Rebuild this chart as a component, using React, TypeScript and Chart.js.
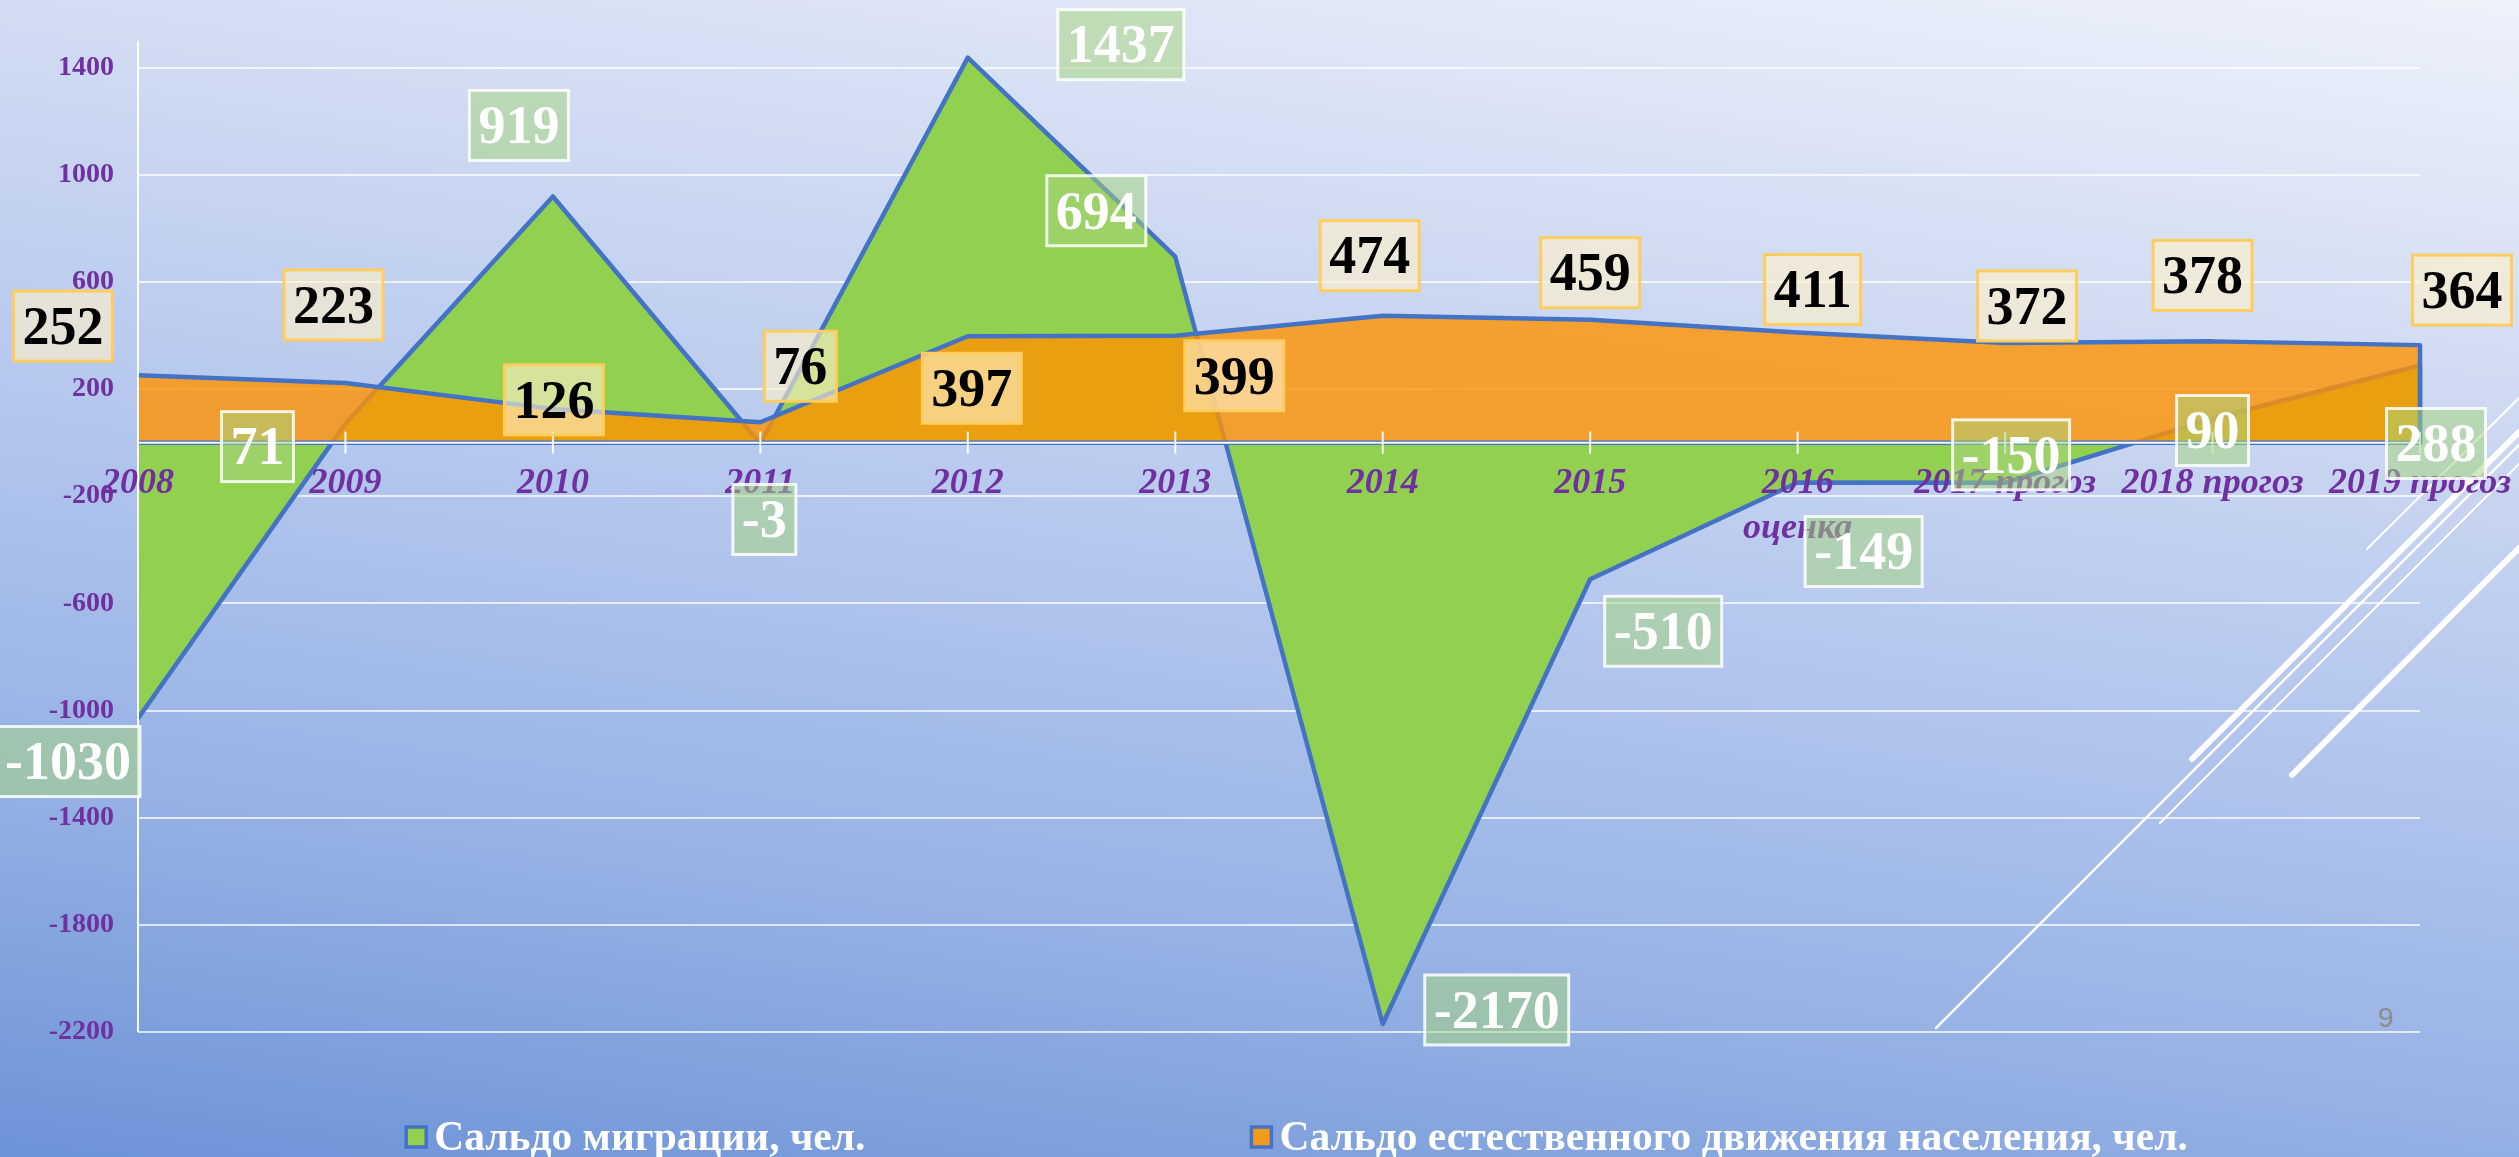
import React, { useEffect, useRef } from "react";
import { Chart, registerables } from "chart.js";

Chart.register(...registerables);

// ---------- data ----------
const categories: (string | string[])[] = [
  "2008", "2009", "2010", "2011", "2012", "2013", "2014", "2015",
  ["2016", "оценка"], "2017 прогоз", "2018 прогоз", "2019 прогоз",
];
const migration = [-1030, 71, 919, -3, 1437, 694, -2170, -510, -149, -150, 90, 288];
const natural = [252, 223, 126, 76, 397, 399, 474, 459, 411, 372, 378, 364];
const yTicks = [-2200, -1800, -1400, -1000, -600, -200, 200, 600, 1000, 1400];
const seriesNames = [
  "Сальдо миграции, чел.",
  "Сальдо естественного движения населения, чел.",
];

// ---------- label placement (px offsets from each point) ----------
const migrationLabelOffsets = [
  [-70, 43], [-88, 23], [-34, -71], [4, 76], [153, -13], [-79, -46],
  [114, -14], [73, 52], [66, 69], [6, -28], [0, 12], [16, 78],
];
const naturalLabelOffsets = [
  [-75, -49], [-12, -78], [1, -9], [40, -56], [4, 52], [59, 40],
  [-13, -60], [0, -47], [15, -43], [22, -37], [-10, -66], [42, -55],
];

// ---------- styles ----------
const SERIF = '"Liberation Serif", "Times New Roman", Times, serif';
const GREEN = "#92D050";
const ORANGE = "rgba(255,146,0,0.8)";
const BLUE = "#4472C4";
const PURPLE = "#7030A0";

const decoLines = [
  { x1: 1936, y1: 1028, x2: 2519, y2: 445, w: 2.5 },
  { x1: 2192, y1: 759, x2: 2519, y2: 432, w: 6 },
  { x1: 2160, y1: 823, x2: 2519, y2: 464, w: 2 },
  { x1: 2292, y1: 775, x2: 2519, y2: 548, w: 6 },
  { x1: 2367, y1: 549, x2: 2519, y2: 398, w: 2 },
];

export default function App() {
  const ref = useRef<HTMLCanvasElement>(null);

  useEffect(() => {
    const canvas = ref.current;
    if (!canvas) return;

    const areaBorder = {
      id: "areaBorder",
      afterDatasetDraw(chart: any, args: any) {
        const pts = args.meta.data;
        if (!pts || !pts.length) return;
        const ctx = chart.ctx;
        const y0 = chart.scales.y.getPixelForValue(0);
        ctx.save();
        ctx.beginPath();
        ctx.moveTo(pts[0].x, pts[0].y);
        for (let i = 1; i < pts.length; i++) ctx.lineTo(pts[i].x, pts[i].y);
        ctx.lineTo(pts[pts.length - 1].x, y0);
        ctx.lineTo(pts[0].x, y0);
        ctx.lineWidth = 4.5;
        ctx.lineJoin = "round";
        ctx.strokeStyle = BLUE;
        ctx.stroke();
        ctx.restore();
      },
    };

    const axesOverlay = {
      id: "axesOverlay",
      afterDatasetsDraw(chart: any) {
        const { ctx, chartArea, scales } = chart;
        const y0 = scales.y.getPixelForValue(0);
        ctx.save();
        ctx.strokeStyle = "rgba(255,255,255,0.95)";
        ctx.lineWidth = 2;
        ctx.beginPath();
        ctx.moveTo(chartArea.left, chartArea.top);
        ctx.lineTo(chartArea.left, chartArea.bottom);
        ctx.stroke();
        ctx.beginPath();
        ctx.moveTo(chartArea.left, y0);
        ctx.lineTo(chartArea.right, y0);
        ctx.stroke();
        categories.forEach((_, i) => {
          const x = scales.x.getPixelForTick(i);
          ctx.beginPath();
          ctx.moveTo(x, y0 - 11);
          ctx.lineTo(x, y0 + 11);
          ctx.stroke();
        });
        ctx.restore();
      },
    };

    const overlay = {
      id: "valueLabelsAndLegend",
      afterDraw(chart: any) {
        const ctx = chart.ctx;
        const fs = 54;
        const drawSet = (
          dsIndex: number,
          values: number[],
          offsets: number[][],
          fill: string,
          border: string,
          textColor: string
        ) => {
          const meta = chart.getDatasetMeta(dsIndex);
          values.forEach((v, i) => {
            const p = meta.data[i];
            const cx = p.x + offsets[i][0];
            const cy = p.y + offsets[i][1];
            const text = String(v);
            ctx.save();
            ctx.font = `bold ${fs}px ${SERIF}`;
            const w = ctx.measureText(text).width + 18;
            const h = 70;
            ctx.fillStyle = fill;
            ctx.fillRect(cx - w / 2, cy - h / 2, w, h);
            ctx.lineWidth = 3;
            ctx.strokeStyle = border;
            ctx.strokeRect(cx - w / 2, cy - h / 2, w, h);
            ctx.fillStyle = textColor;
            ctx.textAlign = "center";
            ctx.textBaseline = "alphabetic";
            ctx.fillText(text, cx, cy + fs * 0.33);
            ctx.restore();
          });
        };
        drawSet(0, migration, migrationLabelOffsets, "rgba(165,213,125,0.52)", "rgba(255,255,255,0.85)", "#FFFFFF");
        drawSet(1, natural, naturalLabelOffsets, "rgba(255,240,200,0.62)", "#FFCD5E", "#000000");

        // legend
        const ca = chart.chartArea;
        const lfs = 41.5;
        const box = 20;
        const gap = 386;
        const ly = 1137;
        ctx.save();
        ctx.font = `bold ${lfs}px ${SERIF}`;
        const widths = seriesNames.map((t) => box + 8 + ctx.measureText(t).width);
        const total = widths[0] + gap + widths[1];
        let x = (ca.left + ca.right) / 2 + 18 - total / 2;
        const fills = [GREEN, "rgb(240,155,30)"];
        seriesNames.forEach((t, i) => {
          ctx.fillStyle = fills[i];
          ctx.fillRect(x, ly - box / 2, box, box);
          ctx.lineWidth = 3.5;
          ctx.strokeStyle = BLUE;
          ctx.strokeRect(x, ly - box / 2, box, box);
          ctx.fillStyle = "#FFFFFF";
          ctx.textAlign = "left";
          ctx.textBaseline = "middle";
          ctx.fillText(t, x + box + 8, ly + 2);
          x += widths[i] + gap;
        });
        ctx.restore();
      },
    };

    const chart = new Chart(canvas, {
      type: "line",
      data: {
        labels: categories as any,
        datasets: [
          {
            label: seriesNames[0],
            data: migration,
            backgroundColor: GREEN,
            borderColor: "transparent",
            borderWidth: 1,
            fill: "origin",
            tension: 0,
            pointRadius: 0,
            pointHoverRadius: 0,
            order: 2,
          },
          {
            label: seriesNames[1],
            data: natural,
            backgroundColor: ORANGE,
            borderColor: "transparent",
            borderWidth: 1,
            fill: "origin",
            tension: 0,
            pointRadius: 0,
            pointHoverRadius: 0,
            order: 1,
          },
        ],
      },
      options: {
        responsive: false,
        devicePixelRatio: 1,
        animation: false,
        events: [],
        layout: { padding: { left: 0, top: 36, right: 99, bottom: 125 } },
        plugins: {
          legend: { display: false },
          tooltip: { enabled: false },
          title: { display: false },
        },
        scales: {
          x: {
            type: "category",
            position: { y: 0 } as any,
            offset: false,
            afterFit: (s: any) => {
              s.paddingLeft = 0;
              s.paddingRight = 0;
            },
            grid: { display: false, drawTicks: false },
            border: { display: false },
            ticks: {
              z: 1,
              padding: 19,
              color: PURPLE,
              autoSkip: false,
              maxRotation: 0,
              minRotation: 0,
              font: { family: SERIF, size: 36, weight: "bold", style: "italic", lineHeight: 1.25 },
            },
          },
          y: {
            type: "linear",
            min: -2200,
            max: 1500,
            afterBuildTicks: (s: any) => {
              s.ticks = yTicks.map((v) => ({ value: v }));
            },
            afterFit: (s: any) => {
              s.width = 138;
            },
            grid: { color: "rgba(255,255,255,0.72)", lineWidth: 2, drawTicks: false },
            border: { display: false },
            ticks: {
              padding: 24,
              color: PURPLE,
              font: { family: SERIF, size: 28, weight: "bold" },
              callback: (v: any) => String(v),
            },
          },
        },
      },
      plugins: [areaBorder, axesOverlay, overlay],
    });

    return () => chart.destroy();
  }, []);

  return (
    <div
      style={{
        position: "fixed",
        left: 0,
        top: 0,
        width: 2519,
        height: 1157,
        overflow: "hidden",
        background:
          "linear-gradient(188deg, #EDF1FA 0%, #D4DEF3 22%, #B6C8EE 48%, #95B1E4 75%, #6C92D7 100%)",
      }}
    >
      <svg width={2519} height={1157} style={{ position: "absolute", left: 0, top: 0 }}>
        {decoLines.map((l, i) => (
          <line key={i} x1={l.x1} y1={l.y1} x2={l.x2} y2={l.y2} stroke="#FFFFFF" strokeWidth={l.w} strokeLinecap="round" />
        ))}
      </svg>
      <div
        style={{
          position: "absolute",
          left: 2378,
          top: 1002,
          fontFamily: '"Liberation Sans", Arial, sans-serif',
          fontSize: 28,
          color: "#8C8C8C",
        }}
      >
        9
      </div>
      <canvas
        ref={ref}
        width={2519}
        height={1157}
        style={{ position: "absolute", left: 0, top: 0, display: "block" }}
      />
    </div>
  );
}
